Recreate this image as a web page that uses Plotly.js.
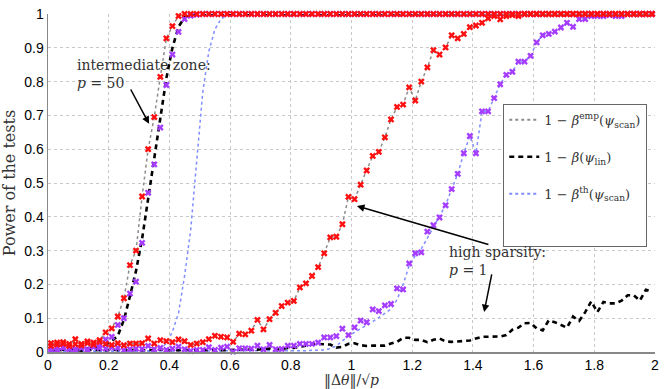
<!DOCTYPE html>
<html>
<head>
<meta charset="utf-8">
<script src="https://cdn.plot.ly/plotly-3.0.1.min.js"></script>
<style>html,body{margin:0;padding:0;background:#fff;}#chart{width:664px;height:389px;}</style>
</head>
<body>
<div id="chart"></div>
<script>
// x grid: ||Δθ|| / sqrt(p)
const xVals = [
0.01,0.03,0.05,0.07,0.09,0.11,0.13,0.15,0.17,0.19,
0.21,0.23,0.25,0.27,0.29,0.31,0.33,0.35,0.37,0.39,
0.41,0.43,0.45,0.47,0.49,0.51,0.53,0.55,0.57,0.59,
0.61,0.63,0.65,0.67,0.69,0.71,0.73,0.75,0.77,0.79,
0.81,0.83,0.85,0.87,0.89,0.91,0.93,0.95,0.97,0.99,
1.01,1.03,1.05,1.07,1.09,1.11,1.13,1.15,1.17,1.19,
1.21,1.23,1.25,1.27,1.29,1.31,1.33,1.35,1.37,1.39,
1.41,1.43,1.45,1.47,1.49,1.51,1.53,1.55,1.57,1.59,
1.61,1.63,1.65,1.67,1.69,1.71,1.73,1.75,1.77,1.79,
1.81,1.83,1.85,1.87,1.89,1.91,1.93,1.95,1.97,1.99];

// p = 50 (intermediate zone)
const empScanP50 = [
0.026,0.022,0.029,0.018,0.038,0.020,0.031,0.028,0.035,0.058,
0.070,0.105,0.159,0.257,0.300,0.460,0.600,0.695,0.814,0.928,
0.964,0.994,1,1,1,1,1,1,1,1,
1,1,1,1,1,1,1,1,1,1,
1,1,1,1,1,1,1,1,1,1,
1,1,1,1,1,1,1,1,1,1,
1,1,1,1,1,1,1,1,1,1,
1,1,1,1,1,1,1,1,1,1,
1,1,1,1,1,1,1,1,1,1,
1,1,1,1,1,1,1,1,1,1];
const empLinP50 = [
0.003,0.012,0.015,0.008,0.010,0.015,0.008,0.015,0.020,0.037,
0.045,0.080,0.100,0.173,0.208,0.323,0.471,0.555,0.664,0.790,
0.880,0.947,0.985,0.995,0.998,1,1,1,1,1,
1,1,1,1,1,1,1,1,1,1,
1,1,1,1,1,1,1,1,1,1,
1,1,1,1,1,1,1,1,1,1,
1,1,1,1,1,1,1,1,1,1,
1,1,1,1,1,1,1,1,1,1,
1,1,1,1,1,1,1,1,1,1,
1,1,1,1,1,1,1,1,1,1];
const linP50 = [
0.006,0.007,0.006,0.008,0.007,0.009,0.010,0.011,0.015,0.022,
0.032,0.048,0.095,0.165,0.240,0.335,0.455,0.570,0.690,0.810,
0.900,0.962,0.990,0.997,1,1,1,1,1,1,
1,1,1,1,1,1,1,1,1,1,
1,1,1,1,1,1,1,1,1,1,
1,1,1,1,1,1,1,1,1,1,
1,1,1,1,1,1,1,1,1,1,
1,1,1,1,1,1,1,1,1,1,
1,1,1,1,1,1,1,1,1,1,
1,1,1,1,1,1,1,1,1,1];
const thScanP50 = [
0.001,0.001,0.001,0.001,0.001,0.001,0.001,0.001,0.001,0.001,
0.001,0.001,0.001,0.001,0.001,0.002,0.003,0.005,0.010,0.025,
0.060,0.115,0.225,0.360,0.560,0.770,0.890,0.955,0.985,0.998,
1,1,1,1,1,1,1,1,1,1,
1,1,1,1,1,1,1,1,1,1,
1,1,1,1,1,1,1,1,1,1,
1,1,1,1,1,1,1,1,1,1,
1,1,1,1,1,1,1,1,1,1,
1,1,1,1,1,1,1,1,1,1,
1,1,1,1,1,1,1,1,1,1];

// p = 1 (high sparsity)
const empScanP1 = [
0.018,0.028,0.024,0.024,0.023,0.024,0.026,0.022,0.030,0.024,
0.021,0.026,0.020,0.025,0.025,0.026,0.040,0.025,0.035,0.032,
0.029,0.037,0.032,0.021,0.025,0.029,0.038,0.048,0.045,0.043,
0.030,0.054,0.052,0.063,0.095,0.067,0.097,0.116,0.136,0.146,
0.151,0.191,0.203,0.225,0.251,0.292,0.339,0.341,0.378,0.459,
0.452,0.495,0.537,0.580,0.592,0.635,0.688,0.725,0.732,0.783,
0.744,0.800,0.842,0.893,0.880,0.901,0.937,0.928,0.941,0.961,
0.966,0.974,0.987,0.994,0.984,0.994,0.997,0.994,1,1,
1,1,1,1,1,1,1,1,1,1,
1,1,1,1,1,1,1,1,1,1];
const empOtherP1 = [
0.008,0.005,0.012,0.010,0.006,0.012,0.005,0.016,0.012,0.010,
0.013,0.012,0.005,0.008,0.010,0.009,0.018,0.008,0.012,0.006,
0.010,0.016,0.008,0.003,0.006,0.006,0.014,0.006,0.013,0.016,
0.001,0.011,0.011,0.010,0.019,0.008,0.021,0.008,0.009,0.019,
0.019,0.024,0.024,0.024,0.028,0.043,0.043,0.047,0.069,0.050,
0.073,0.093,0.088,0.126,0.121,0.138,0.142,0.188,0.185,0.262,
0.292,0.295,0.356,0.375,0.398,0.434,0.482,0.527,0.588,0.639,
0.588,0.712,0.712,0.751,0.792,0.820,0.829,0.859,0.859,0.876,
0.916,0.937,0.941,0.948,0.960,0.974,0.962,0.985,0.985,0.994,
0.994,0.994,0.997,0.994,0.994,1,1,1,1,1];
const thScanP1 = [
0.002,0.002,0.002,0.002,0.002,0.002,0.002,0.002,0.002,0.002,
0.002,0.002,0.002,0.002,0.002,0.002,0.002,0.002,0.002,0.002,
0.002,0.002,0.002,0.002,0.002,0.002,0.002,0.002,0.002,0.002,
0.002,0.002,0.002,0.002,0.002,0.002,0.002,0.002,0.002,0.002,
0.003,0.004,0.004,0.005,0.005,0.006,0.010,0.018,0.033,0.048,
0.058,0.068,0.080,0.090,0.102,0.115,0.127,0.155,0.200,0.255,
0.285,0.305,0.337,0.368,0.398,0.434,0.482,0.527,0.588,0.639,
0.588,0.712,0.712,0.751,0.792,0.820,0.829,0.859,0.859,0.876,
0.916,0.937,0.941,0.948,0.960,0.974,0.962,0.985,0.985,0.994,
0.994,0.994,0.997,0.994,0.994,1,1,1,1,1];
const linP1 = [
0.006,0.004,0.007,0.005,0.006,0.004,0.008,0.005,0.006,0.005,
0.007,0.005,0.006,0.004,0.007,0.005,0.006,0.005,0.008,0.004,
0.006,0.005,0.007,0.005,0.006,0.004,0.006,0.008,0.005,0.006,
0.005,0.007,0.006,0.008,0.007,0.008,0.010,0.006,0.010,0.012,
0.012,0.016,0.020,0.022,0.024,0.024,0.022,0.013,0.015,0.024,
0.026,0.020,0.018,0.019,0.019,0.019,0.025,0.030,0.042,0.042,
0.036,0.036,0.029,0.036,0.040,0.031,0.030,0.031,0.031,0.034,
0.040,0.045,0.045,0.045,0.046,0.050,0.066,0.072,0.085,0.086,
0.070,0.064,0.094,0.088,0.080,0.072,0.105,0.092,0.118,0.150,
0.118,0.148,0.144,0.144,0.152,0.168,0.168,0.152,0.184,0.180];

const legendLabels = [
  '1 − <i>β</i><sup>emp</sup>(<i>ψ</i><sub>scan</sub>)',
  '1 − <i>β</i>(<i>ψ</i><sub>lin</sub>)',
  '1 − <i>β</i><sup>th</sup>(<i>ψ</i><sub>scan</sub>)'
];

const RED = '#ff1010', PURPLE = '#a53cff', GRAY = '#8c8c8c', BLUE = '#7f8dff';
const blueLine = {color: BLUE, dash: 'dot', width: 1.5};
const blackLine = {color: 'black', dash: '5px,4px', width: 2.6};
const grayLine = {color: GRAY, dash: 'dot', width: 1.5};
const mk = c => ({symbol: 'x', size: 6, color: c, line: {width: 0}});

const traces = [
  {x: xVals, y: thScanP50, mode: 'lines', line: blueLine, showlegend: false, cliponaxis: false},
  {x: xVals, y: thScanP1, mode: 'lines', line: blueLine, showlegend: false, cliponaxis: false},
  {x: xVals, y: linP1, mode: 'lines', line: blackLine, showlegend: false, cliponaxis: false},
  {x: xVals, y: linP50, mode: 'lines', line: blackLine, showlegend: false, cliponaxis: false},
  {x: xVals, y: empOtherP1, mode: 'markers', marker: mk(PURPLE), showlegend: false, cliponaxis: false},
  {x: xVals, y: empLinP50, mode: 'markers', marker: mk(PURPLE), showlegend: false, cliponaxis: false},
  {x: xVals, y: empScanP1, mode: 'lines+markers', line: grayLine, marker: mk(RED), showlegend: false, cliponaxis: false},
  {x: xVals, y: empScanP50, mode: 'lines+markers', line: grayLine, marker: mk(RED), showlegend: false, cliponaxis: false},
  // legend entries
  {x: [null], y: [null], mode: 'lines', line: {color: GRAY, dash: 'dot', width: 2}, name: legendLabels[0], legendgroup: 'a'},
  {x: [null], y: [null], mode: 'lines', line: {color: 'black', dash: '5px,4px', width: 2.6}, name: legendLabels[1], legendgroup: 'b'},
  {x: [null], y: [null], mode: 'lines', line: {color: BLUE, dash: 'dot', width: 2}, name: legendLabels[2], legendgroup: 'c'},
  {x: [null], y: [null], mode: 'lines', line: {color: 'rgba(0,0,0,0)', width: 0}, name: ' ', legendgroup: 'd'}
];

const serif = 'DejaVu Serif, serif';
const layout = {
  width: 664, height: 389,
  margin: {l: 48, r: 9, t: 14, b: 37, autoexpand: false},
  paper_bgcolor: '#fff', plot_bgcolor: '#fff',
  showlegend: true,
  legend: {
    x: 0.75, y: 0.734, xanchor: 'left', yanchor: 'top',
    bgcolor: '#fff', bordercolor: '#666', borderwidth: 1,
    font: {family: serif, size: 13, color: '#333'},
    tracegroupgap: 17, itemwidth: 30
  },
  xaxis: {
    range: [0, 2], dtick: 0.2, tick0: 0,
    showgrid: true, gridcolor: '#c8c8c8', griddash: 'dot', gridwidth: 1,
    zeroline: false, showline: true, linecolor: '#888', linewidth: 1.5,
    ticks: '', tickfont: {family: 'Liberation Sans, Arial, sans-serif', size: 14, color: '#000'},
    title: {text: '‖Δ<i>θ</i>‖/√<i>p</i>', font: {family: serif, size: 14, color: '#333'}, standoff: 4}
  },
  yaxis: {
    range: [0, 1], dtick: 0.1, tick0: 0,
    showgrid: true, gridcolor: '#c8c8c8', griddash: 'dot', gridwidth: 1,
    zeroline: false, showline: true, linecolor: '#888', linewidth: 1.5,
    ticks: '', tickfont: {family: 'Liberation Sans, Arial, sans-serif', size: 14, color: '#000'},
    title: {text: 'Power of the tests', font: {family: serif, size: 16, color: '#333'}, standoff: 6}
  },
  annotations: [
    {xref: 'x', yref: 'y', x: 0.089, y: 0.822, xanchor: 'left', yanchor: 'middle', align: 'left',
     text: 'intermediate zone:<br><i>p</i> = 50', showarrow: false,
     font: {family: serif, size: 14, color: '#333'}},
    {xref: 'x', yref: 'y', axref: 'x', ayref: 'y', x: 0.333, y: 0.675, ax: 0.270, ay: 0.781,
     text: '', showarrow: true, arrowhead: 2, arrowsize: 1, arrowwidth: 1.5, arrowcolor: '#000'},
    {xref: 'x', yref: 'y', x: 1.315, y: 0.269, xanchor: 'left', yanchor: 'middle', align: 'left',
     text: 'high sparsity:<br><i>p</i> = 1', showarrow: false,
     font: {family: serif, size: 14, color: '#333'}},
    {xref: 'x', yref: 'y', axref: 'x', ayref: 'y', x: 1.018, y: 0.432, ax: 1.456, ay: 0.317,
     text: '', showarrow: true, arrowhead: 2, arrowsize: 1, arrowwidth: 1.5, arrowcolor: '#000'},
    {xref: 'x', yref: 'y', axref: 'x', ayref: 'y', x: 1.437, y: 0.118, ax: 1.463, ay: 0.234,
     text: '', showarrow: true, arrowhead: 2, arrowsize: 1, arrowwidth: 1.5, arrowcolor: '#000'}
  ]
};

Plotly.newPlot('chart', traces, layout, {displayModeBar: false, staticPlot: true});
</script>
</body>
</html>
